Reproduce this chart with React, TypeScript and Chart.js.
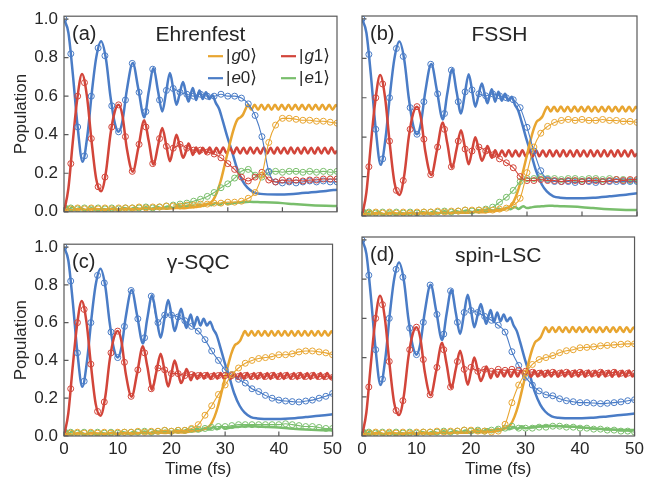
import React, { useEffect, useRef } from "react";
import { Chart, registerables } from "chart.js";
Chart.register(...registerables);
Chart.defaults.font.family = '"Liberation Sans", Arial, sans-serif';

const TEXT = "#262626";
const FRAME = "#595959";
const COLORS: Record<string, string> = { g0: "#e8a530", g1: "#d2453a", e0: "#4a7cc6", e1: "#79be6c" };
const KEYS = ["g0", "g1", "e0", "e1"];

const X_TICKS = [0, 10, 20, 30, 40, 50];
const Y_TICKS = [0, 0.2, 0.4, 0.6, 0.8, 1.0];

// ---------- exact (thick solid) curves ----------
const EXACT_E0_T = [0, 0.8, 1.6, 2.5, 3.4, 4.3, 5.1, 5.9, 6.8, 7.7, 8.5, 9.3, 10.0, 10.7, 11.5, 12.6, 13.6, 14.7, 15.5, 16.4, 17.2, 18.0, 18.7, 19.4, 20.0, 20.6, 21.2, 21.8, 22.3, 22.8, 23.2, 23.6, 24.2, 24.8, 25.4, 26.0, 26.6, 27.2, 27.8, 28.4, 29.0, 29.9, 30.8, 31.7, 32.7, 33.6, 34.8, 36.0, 39, 42, 45, 48, 50];
const EXACT_E0 = [1.0, 0.93, 0.72, 0.44, 0.26, 0.40, 0.62, 0.80, 0.885, 0.79, 0.60, 0.46, 0.415, 0.47, 0.63, 0.772, 0.64, 0.49, 0.62, 0.745, 0.63, 0.52, 0.62, 0.72, 0.64, 0.555, 0.615, 0.673, 0.62, 0.572, 0.61, 0.643, 0.58, 0.63, 0.585, 0.62, 0.585, 0.605, 0.565, 0.535, 0.48, 0.39, 0.31, 0.225, 0.16, 0.125, 0.10, 0.093, 0.09, 0.093, 0.10, 0.108, 0.115];

const EXACT_G1_T = [0, 0.8, 1.6, 2.4, 3.3, 4.2, 5.0, 5.9, 6.8, 7.7, 8.5, 9.3, 10.0, 10.7, 11.5, 12.6, 13.6, 14.7, 15.5, 16.4, 17.2, 18.0, 18.7, 19.4, 20.0, 20.6, 21.2, 21.8, 22.3, 22.8, 23.2, 23.6, 24.2, 24.82, 25.44, 26.06, 26.68, 27.3, 27.92, 28.54, 29.16, 29.78, 30.4, 31.02, 31.64, 32.26, 32.88, 33.5, 34.12, 34.74, 35.36, 35.98, 36.6, 37.22, 37.84, 38.46, 39.08, 39.7, 40.32, 40.94, 41.56, 42.18, 42.8, 43.42, 44.04, 44.66, 45.28, 45.9, 46.52, 47.14, 47.76, 48.38, 49.0, 49.62, 50];
const EXACT_G1 = [0, 0.12, 0.36, 0.58, 0.715, 0.60, 0.38, 0.17, 0.107, 0.21, 0.40, 0.52, 0.555, 0.50, 0.33, 0.208, 0.33, 0.475, 0.37, 0.245, 0.34, 0.435, 0.35, 0.262, 0.33, 0.40, 0.34, 0.28, 0.31, 0.355, 0.33, 0.295, 0.334, 0.302, 0.333, 0.303, 0.334, 0.302, 0.333, 0.303, 0.334, 0.303, 0.333, 0.302, 0.334, 0.303, 0.333, 0.302, 0.334, 0.303, 0.333, 0.302, 0.334, 0.303, 0.333, 0.302, 0.334, 0.303, 0.333, 0.302, 0.334, 0.303, 0.333, 0.302, 0.334, 0.303, 0.333, 0.302, 0.334, 0.303, 0.333, 0.302, 0.334, 0.303, 0.318];

const EXACT_G0_T = [0, 0.5, 1.5, 2.5, 4, 5.5, 7, 8.5, 10, 11.5, 13, 14.5, 16, 17.5, 19, 20.5, 22, 23.5, 24.5, 25.5, 26.5, 27.3, 28.0, 28.7, 29.4, 30.0, 30.6, 31.2, 31.8, 32.3, 32.8, 33.2, 33.7, 34.3, 34.92, 35.54, 36.16, 36.78, 37.4, 38.02, 38.64, 39.26, 39.88, 40.5, 41.12, 41.74, 42.36, 42.98, 43.6, 44.22, 44.84, 45.46, 46.08, 46.7, 47.32, 47.94, 48.56, 49.18, 49.8, 50];
const EXACT_G0 = [0, 0.012, 0.008, 0.015, 0.01, 0.016, 0.01, 0.015, 0.011, 0.016, 0.012, 0.017, 0.014, 0.018, 0.016, 0.02, 0.019, 0.024, 0.026, 0.032, 0.042, 0.06, 0.10, 0.16, 0.24, 0.31, 0.38, 0.44, 0.48, 0.49, 0.505, 0.53, 0.555, 0.53, 0.555, 0.53, 0.556, 0.53, 0.555, 0.529, 0.556, 0.53, 0.555, 0.53, 0.556, 0.53, 0.555, 0.529, 0.555, 0.53, 0.556, 0.53, 0.555, 0.53, 0.556, 0.53, 0.555, 0.53, 0.554, 0.545];

const EXACT_E1_T = [0, 0.4, 0.9, 1.5, 2.2, 3, 4, 5, 6, 7, 8, 9, 10, 11, 12, 13, 14, 15, 16, 17, 18, 19, 20, 21, 22, 23, 24, 24.8, 25.5, 26.3, 27, 27.8, 28.5, 29.3, 30, 31, 32, 33, 34, 35, 36, 38, 40, 42, 44, 46, 48, 50];
const EXACT_E1 = [0, 0.03, 0.012, 0.025, 0.01, 0.02, 0.008, 0.018, 0.008, 0.016, 0.01, 0.018, 0.01, 0.02, 0.012, 0.022, 0.014, 0.024, 0.016, 0.026, 0.018, 0.028, 0.02, 0.03, 0.022, 0.034, 0.026, 0.038, 0.03, 0.042, 0.034, 0.046, 0.036, 0.05, 0.04, 0.045, 0.048, 0.05, 0.052, 0.051, 0.05, 0.048, 0.045, 0.04, 0.036, 0.033, 0.031, 0.03];

// ---------- method results (circles + thin line) ----------
const METHOD_T = [0, 1.25, 2.5, 3.75, 5, 6.25, 7.5, 8.75, 10, 11.25, 12.5, 13.75, 15, 16.25, 17.5, 18.75, 20, 21.25, 22.5, 23.75, 25, 26.25, 27.5, 28.75, 30, 31.25, 32.5, 33.75, 35, 36.25, 37.5, 38.75, 40, 41.25, 42.5, 43.75, 45, 46.25, 47.5, 48.75, 50];

const EHR_G0 = [0, 0.015, 0.02, 0.015, 0.02, 0.015, 0.02, 0.015, 0.02, 0.02, 0.02, 0.025, 0.02, 0.025, 0.025, 0.03, 0.03, 0.03, 0.035, 0.035, 0.04, 0.04, 0.045, 0.045, 0.05, 0.05, 0.055, 0.07, 0.10, 0.19, 0.36, 0.45, 0.485, 0.485, 0.48, 0.475, 0.475, 0.47, 0.47, 0.465, 0.46];
const EHR_G1 = [0, 0.25, 0.60, 0.67, 0.38, 0.13, 0.18, 0.44, 0.555, 0.39, 0.21, 0.35, 0.44, 0.25, 0.38, 0.34, 0.33, 0.35, 0.33, 0.32, 0.32, 0.31, 0.30, 0.28, 0.25, 0.22, 0.18, 0.16, 0.18, 0.205, 0.165, 0.155, 0.165, 0.16, 0.165, 0.16, 0.165, 0.165, 0.17, 0.17, 0.17];
const EHR_E0 = [1.0, 0.82, 0.44, 0.29, 0.60, 0.85, 0.81, 0.55, 0.415, 0.58, 0.77, 0.62, 0.52, 0.74, 0.58, 0.63, 0.64, 0.62, 0.61, 0.60, 0.61, 0.60, 0.60, 0.61, 0.60, 0.60, 0.59, 0.56, 0.50, 0.39, 0.21, 0.155, 0.15, 0.155, 0.15, 0.155, 0.16, 0.155, 0.16, 0.155, 0.155];
const EHR_E1 = [0, 0.02, 0.015, 0.02, 0.015, 0.02, 0.015, 0.02, 0.015, 0.02, 0.02, 0.02, 0.025, 0.02, 0.025, 0.03, 0.035, 0.04, 0.045, 0.055, 0.065, 0.08, 0.10, 0.125, 0.145, 0.175, 0.21, 0.22, 0.19, 0.18, 0.205, 0.21, 0.205, 0.21, 0.21, 0.205, 0.21, 0.205, 0.21, 0.205, 0.21];

const FSSH_G0 = [0, 0.015, 0.02, 0.015, 0.02, 0.015, 0.02, 0.015, 0.02, 0.02, 0.02, 0.025, 0.02, 0.025, 0.025, 0.03, 0.03, 0.03, 0.03, 0.03, 0.035, 0.04, 0.055, 0.09, 0.22, 0.35, 0.42, 0.455, 0.475, 0.485, 0.49, 0.485, 0.49, 0.485, 0.485, 0.49, 0.485, 0.485, 0.48, 0.48, 0.475];
const FSSH_G1 = [0, 0.25, 0.60, 0.67, 0.38, 0.13, 0.18, 0.44, 0.555, 0.39, 0.21, 0.35, 0.44, 0.25, 0.38, 0.34, 0.33, 0.35, 0.33, 0.31, 0.29, 0.27, 0.245, 0.20, 0.18, 0.18, 0.185, 0.18, 0.18, 0.175, 0.18, 0.18, 0.175, 0.18, 0.18, 0.175, 0.18, 0.185, 0.18, 0.185, 0.185];
const FSSH_E0 = [1.0, 0.82, 0.44, 0.29, 0.60, 0.85, 0.81, 0.55, 0.415, 0.58, 0.77, 0.62, 0.52, 0.74, 0.58, 0.63, 0.64, 0.62, 0.61, 0.62, 0.61, 0.60, 0.59, 0.55, 0.45, 0.33, 0.23, 0.185, 0.175, 0.175, 0.175, 0.17, 0.175, 0.175, 0.17, 0.175, 0.175, 0.175, 0.175, 0.175, 0.175];
const FSSH_E1 = [0, 0.02, 0.015, 0.02, 0.015, 0.02, 0.015, 0.02, 0.015, 0.02, 0.02, 0.02, 0.025, 0.02, 0.025, 0.03, 0.025, 0.03, 0.035, 0.045, 0.07, 0.095, 0.13, 0.175, 0.19, 0.19, 0.195, 0.19, 0.19, 0.185, 0.19, 0.19, 0.185, 0.19, 0.19, 0.185, 0.19, 0.185, 0.185, 0.18, 0.18];

const SQC_G0 = [0, 0.015, 0.02, 0.015, 0.02, 0.015, 0.02, 0.015, 0.02, 0.02, 0.02, 0.025, 0.02, 0.025, 0.025, 0.03, 0.025, 0.03, 0.03, 0.04, 0.06, 0.11, 0.16, 0.22, 0.27, 0.325, 0.36, 0.385, 0.40, 0.41, 0.415, 0.42, 0.43, 0.43, 0.435, 0.445, 0.45, 0.45, 0.445, 0.44, 0.43];
const SQC_G1 = [0, 0.25, 0.60, 0.67, 0.38, 0.13, 0.18, 0.44, 0.555, 0.39, 0.21, 0.35, 0.44, 0.25, 0.36, 0.35, 0.33, 0.33, 0.32, 0.325, 0.32, 0.32, 0.315, 0.32, 0.32, 0.32, 0.315, 0.32, 0.315, 0.32, 0.315, 0.32, 0.315, 0.32, 0.315, 0.32, 0.315, 0.32, 0.315, 0.315, 0.31];
const SQC_E0 = [1.0, 0.82, 0.44, 0.29, 0.60, 0.85, 0.81, 0.55, 0.415, 0.58, 0.77, 0.62, 0.52, 0.74, 0.60, 0.64, 0.64, 0.63, 0.61, 0.58, 0.555, 0.51, 0.45, 0.40, 0.35, 0.325, 0.30, 0.28, 0.25, 0.235, 0.215, 0.20, 0.19, 0.185, 0.182, 0.18, 0.185, 0.19, 0.20, 0.21, 0.225];
const SQC_E1 = [0, 0.02, 0.015, 0.02, 0.015, 0.02, 0.015, 0.02, 0.015, 0.02, 0.02, 0.02, 0.025, 0.02, 0.025, 0.03, 0.025, 0.03, 0.03, 0.035, 0.035, 0.04, 0.045, 0.05, 0.05, 0.055, 0.06, 0.06, 0.06, 0.06, 0.06, 0.06, 0.06, 0.065, 0.06, 0.055, 0.05, 0.05, 0.045, 0.04, 0.04];

const LSC_G0 = [0, 0.015, 0.02, 0.015, 0.02, 0.015, 0.02, 0.015, 0.02, 0.02, 0.02, 0.025, 0.02, 0.025, 0.025, 0.03, 0.03, 0.025, 0.025, 0.02, 0.025, 0.06, 0.17, 0.26, 0.32, 0.365, 0.39, 0.40, 0.41, 0.425, 0.435, 0.44, 0.45, 0.452, 0.455, 0.46, 0.462, 0.465, 0.468, 0.47, 0.47];
const LSC_G1 = [0, 0.25, 0.60, 0.67, 0.38, 0.13, 0.18, 0.44, 0.555, 0.39, 0.21, 0.35, 0.44, 0.25, 0.38, 0.34, 0.35, 0.33, 0.34, 0.33, 0.34, 0.335, 0.34, 0.335, 0.33, 0.325, 0.32, 0.32, 0.325, 0.32, 0.325, 0.32, 0.325, 0.32, 0.32, 0.325, 0.32, 0.325, 0.32, 0.32, 0.32];
const LSC_E0 = [1.0, 0.82, 0.44, 0.29, 0.60, 0.85, 0.81, 0.55, 0.415, 0.58, 0.77, 0.62, 0.52, 0.74, 0.58, 0.63, 0.64, 0.63, 0.61, 0.59, 0.565, 0.53, 0.43, 0.36, 0.30, 0.26, 0.23, 0.21, 0.205, 0.19, 0.18, 0.175, 0.17, 0.17, 0.168, 0.165, 0.167, 0.17, 0.174, 0.18, 0.185];
const LSC_E1 = [0, 0.02, 0.015, 0.02, 0.015, 0.02, 0.015, 0.02, 0.015, 0.02, 0.02, 0.02, 0.025, 0.02, 0.025, 0.03, 0.025, 0.03, 0.025, 0.03, 0.035, 0.04, 0.05, 0.04, 0.04, 0.04, 0.045, 0.045, 0.05, 0.05, 0.045, 0.045, 0.04, 0.04, 0.035, 0.035, 0.03, 0.03, 0.025, 0.025, 0.02];

const EXACT: Record<string, { t: number[]; v: number[] }> = {
  g0: { t: EXACT_G0_T, v: EXACT_G0 },
  g1: { t: EXACT_G1_T, v: EXACT_G1 },
  e0: { t: EXACT_E0_T, v: EXACT_E0 },
  e1: { t: EXACT_E1_T, v: EXACT_E1 },
};

const LEGEND_LABELS: Record<string, string[]> = { g0: ["g", "0"], g1: ["g", "1"], e0: ["e", "0"], e1: ["e", "1"] };

type Spec = {
  id: string; label: string; title: string;
  left: number; top: number; w: number; h: number;
  padTop: number; padRight: number; yw: number; xh: number;
  showY: boolean; showX: boolean; legend: boolean; agree: number;
  method: Record<string, number[]>;
};

const PANELS: Spec[] = [
  { id: "a", label: "(a)", title: "Ehrenfest", left: 0, top: 0, w: 345, h: 228, padTop: 16, padRight: 8, yw: 64, xh: 12, showY: true, showX: false, legend: true, agree: 20,
    method: { g0: EHR_G0, g1: EHR_G1, e0: EHR_E0, e1: EHR_E1 } },
  { id: "b", label: "(b)", title: "FSSH", left: 345, top: 0, w: 302, h: 228, padTop: 16, padRight: 10, yw: 17, xh: 12, showY: false, showX: false, legend: false, agree: 21.25,
    method: { g0: FSSH_G0, g1: FSSH_G1, e0: FSSH_E0, e1: FSSH_E1 } },
  { id: "c", label: "(c)", title: "γ-SQC", left: 0, top: 228, w: 345, h: 251, padTop: 9, padRight: 8, yw: 64, xh: 43, showY: true, showX: true, legend: false, agree: 16.25,
    method: { g0: SQC_G0, g1: SQC_G1, e0: SQC_E0, e1: SQC_E1 } },
  { id: "d", label: "(d)", title: "spin-LSC", left: 345, top: 228, w: 302, h: 251, padTop: 9, padRight: 10, yw: 17, xh: 43, showY: false, showX: true, legend: false, agree: 20,
    method: { g0: LSC_G0, g1: LSC_G1, e0: LSC_E0, e1: LSC_E1 } },
];

const pts = (ts: number[], vs: number[]) => ts.map((t, i) => ({ x: t, y: vs[i] }));
const font = (size: number, style = "normal") => `${style} ${size}px "Liberation Sans", "DejaVu Sans", sans-serif`;

function Panel({ spec }: { spec: Spec }) {
  const ref = useRef<HTMLCanvasElement>(null);
  useEffect(() => {
    const canvas = ref.current!;
    const datasets: any[] = [];
    for (const k of KEYS) {
      const color = COLORS[k];
      datasets.push({
        label: k + "-method",
        data: pts(METHOD_T, spec.method[k]),
        borderColor: color,
        borderWidth: 1.1,
        pointRadius: 3,
        pointBorderWidth: 1,
        pointBorderColor: color,
        pointBackgroundColor: "rgba(255,255,255,0)",
        cubicInterpolationMode: "monotone",
        // where the method sits on the exact curve, its thin line is hidden under the thick one
        segment: { borderColor: (c: any) => (c.p1.parsed.x <= spec.agree ? "rgba(0,0,0,0)" : color) },
        order: 0,
      });
    }
    for (const k of KEYS) {
      datasets.push({
        label: k + "-exact",
        data: pts(EXACT[k].t, EXACT[k].v),
        borderColor: COLORS[k],
        borderWidth: 2.5,
        pointRadius: 0,
        cubicInterpolationMode: "monotone",
        order: 1,
      });
    }
    const decor = {
      id: "decor",
      afterDatasetsDraw(chart: any) {
        const ctx = chart.ctx as CanvasRenderingContext2D;
        const { left, top, right, bottom } = chart.chartArea;
        const xs = chart.scales.x, ys = chart.scales.y;
        ctx.save();
        ctx.strokeStyle = FRAME;
        ctx.lineWidth = 1.2;
        ctx.beginPath();
        for (const v of X_TICKS) {
          const x = xs.getPixelForValue(v);
          ctx.moveTo(x, bottom);
          ctx.lineTo(x, bottom - 4.5);
        }
        for (const v of Y_TICKS) {
          const y = ys.getPixelForValue(v);
          ctx.moveTo(left, y);
          ctx.lineTo(left + 4.5, y);
        }
        ctx.stroke();
        ctx.strokeRect(left, top, right - left, bottom - top);

        ctx.fillStyle = TEXT;
        ctx.textBaseline = "alphabetic";
        ctx.textAlign = "left";
        ctx.font = font(20);
        ctx.fillText(spec.label, left + 8, top + 24);
        ctx.textAlign = "center";
        ctx.font = font(21);
        ctx.fillText(spec.title, (left + right) / 2, top + 25);

        if (spec.legend) {
          const cols = [left + 144, left + 217];
          const rows = [top + 40, top + 62];
          const items = [["g0", 0, 0], ["g1", 1, 0], ["e0", 0, 1], ["e1", 1, 1]] as [string, number, number][];
          ctx.textAlign = "left";
          ctx.textBaseline = "middle";
          for (const [k, c, r] of items) {
            const x0 = cols[c], y0 = rows[r];
            ctx.strokeStyle = COLORS[k];
            ctx.lineWidth = 2.2;
            ctx.beginPath();
            ctx.moveTo(x0, y0);
            ctx.lineTo(x0 + 15, y0);
            ctx.stroke();
            let x = x0 + 18;
            const [sym, num] = LEGEND_LABELS[k];
            const parts: [string, string][] = [["|", "normal"], [sym, "italic"], [num, "normal"], ["⟩", "normal"]];
            for (const [s, st] of parts) {
              ctx.font = font(17, st);
              ctx.fillText(s, x, y0);
              x += ctx.measureText(s).width + (s === "|" ? 1 : 0);
            }
          }
        }
        ctx.restore();
      },
    };
    const chart = new Chart(canvas, {
      type: "line",
      data: { datasets },
      options: {
        animation: false,
        responsive: false,
        devicePixelRatio: 1,
        events: [],
        layout: { padding: { left: 0, top: spec.padTop, right: spec.padRight, bottom: 0 } },
        plugins: { legend: { display: false }, tooltip: { enabled: false } },
        scales: {
          x: {
            type: "linear",
            min: 0,
            max: 50,
            afterBuildTicks: (s: any) => { s.ticks = X_TICKS.map((v) => ({ value: v })); },
            afterFit: (s: any) => { s.height = spec.xh; },
            grid: { display: false, drawTicks: false },
            border: { display: false },
            ticks: { display: spec.showX, font: { size: 17 }, color: TEXT, padding: 3, maxRotation: 0, autoSkip: false, callback: (v: any) => String(v) },
            title: { display: spec.showX, text: "Time (fs)", font: { size: 17 }, color: TEXT, padding: { top: 0, bottom: -1 } },
          },
          y: {
            type: "linear",
            min: 0,
            max: 1.015,
            afterBuildTicks: (s: any) => { s.ticks = Y_TICKS.map((v) => ({ value: v })); },
            afterFit: (s: any) => { s.width = spec.yw; },
            grid: { display: false, drawTicks: false },
            border: { display: false },
            ticks: { display: spec.showY, font: { size: 17 }, color: TEXT, padding: 6, callback: (v: any) => Number(v).toFixed(1) },
            title: { display: spec.showY, text: "Population", font: { size: 17 }, color: TEXT, padding: { top: 11, bottom: 0 } },
          },
        },
      } as any,
      plugins: [decor],
    });
    return () => chart.destroy();
  }, [spec]);
  return (
    <canvas
      ref={ref}
      width={spec.w}
      height={spec.h}
      style={{ position: "absolute", left: spec.left, top: spec.top, width: spec.w, height: spec.h }}
    />
  );
}

export default function App() {
  return (
    <div style={{ position: "fixed", left: 0, top: 0, width: 647, height: 479, background: "#ffffff" }}>
      {PANELS.map((p) => (
        <Panel key={p.id} spec={p} />
      ))}
    </div>
  );
}
